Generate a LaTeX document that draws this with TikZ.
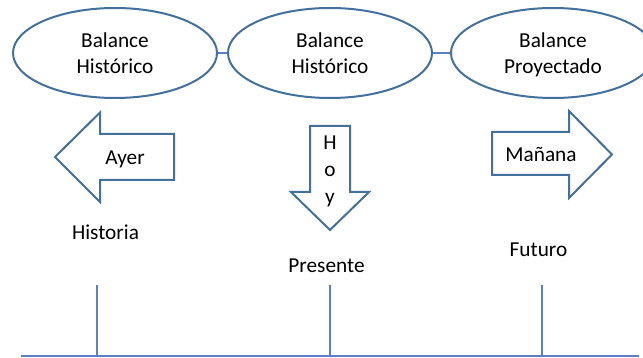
\documentclass[tikz,border=0pt]{standalone}
\usepackage{fontspec}
\setmainfont{Carlito}
\usetikzlibrary{shapes.geometric}
\definecolor{shapeblue}{HTML}{41719C}
\definecolor{lineblue}{HTML}{5B80C6}
\begin{document}
\begin{tikzpicture}[x=1pt,y=-1pt,
  every node/.style={font=\fontsize{21.3}{26}\selectfont, inner sep=0pt, text=black},
  balloon/.style={ellipse, draw=shapeblue, line width=2pt, minimum width=204pt,
    minimum height=90pt, align=center},
  blockarrow/.style={draw=shapeblue, line width=2pt, line join=miter, fill=white},
  link/.style={draw=lineblue, line width=1.2pt},
  timetext/.style={anchor=base}]
  % page frame
  \path[fill=white, use as bounding box] (0,0) rectangle (643,358);

  % balances along the top
  \node[balloon] (e1) at (115,53) {Balance\\Histórico};
  \node[balloon] (e2) at (330,53) {Balance\\Histórico};
  \node[balloon] (e3) at (553,53) {Balance\\\smash{Proyectado}};
  \draw[link] (e1) -- (e2);
  \draw[link] (e2) -- (e3);

  % block arrows: past, present, future
  \draw[blockarrow] (55,157) -- (100,112.5) -- (100,134) -- (174,134) -- (174,180)
    -- (100,180) -- (100,202) -- cycle;
  \node[timetext] (ayer) at (125,165) {Ayer};

  \draw[blockarrow] (310,126) -- (350,126) -- (350,192) -- (369,192) -- (330,230)
    -- (291,192) -- (310,192) -- cycle;
  \node[anchor=north, align=center, font=\fontsize{21.3}{27}\selectfont] (hoy)
    at (330,135.5) {H\\o\\y};

  \draw[blockarrow] (492,132) -- (569,132) -- (569,111) -- (612,154.5) -- (569,198)
    -- (569,175) -- (492,175) -- cycle;
  \node[timetext] (manana) at (541,162) {Mañana};

  % period labels
  \node[timetext] (historia) at (105.5,240) {Historia};
  \node[timetext] (presente) at (326.5,273) {Presente};
  \node[timetext] (futuro) at (538.5,257) {Futuro};

  % time line with ticks
  \coordinate (axisL) at (21,356);
  \coordinate (axisR) at (639,356);
  \coordinate (t1) at (97,285);
  \coordinate (t2) at (330,285);
  \coordinate (t3) at (542,285);
  \draw[link] (axisL) -- (axisR);
  \draw[link] (t1) -- (t1 |- axisL);
  \draw[link] (t2) -- (t2 |- axisL);
  \draw[link] (t3) -- (t3 |- axisL);
\end{tikzpicture}
\end{document}
